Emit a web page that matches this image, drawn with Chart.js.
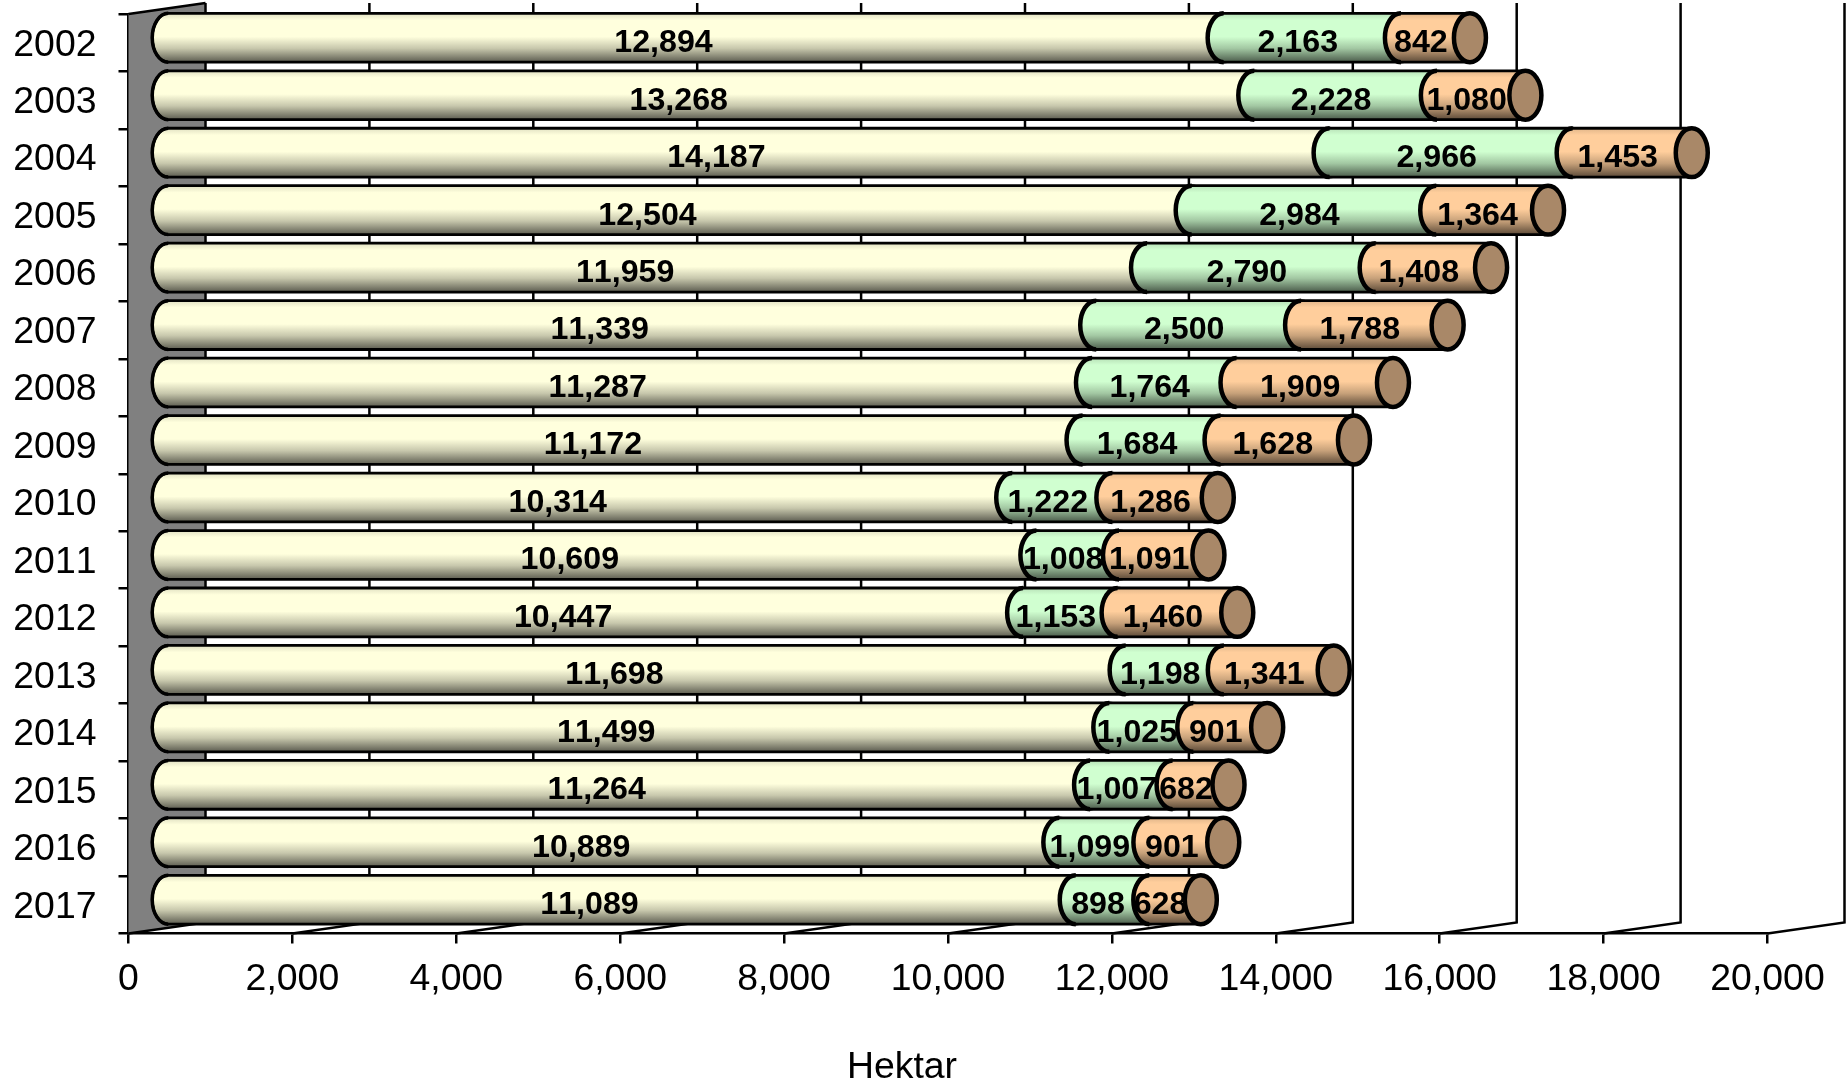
<!DOCTYPE html>
<html>
<head>
<meta charset="utf-8">
<title>Hektar</title>
<script src="https://cdn.jsdelivr.net/npm/chart.js@4/dist/chart.umd.min.js"></script>
<style>
    html, body { margin: 0; padding: 0; background: #fff; }
    canvas { display: block; }
</style>
</head>
<body>
<canvas id="myChart" width="1847" height="1088"></canvas>
<script>
var years = ["2002", "2003", "2004", "2005", "2006", "2007", "2008", "2009",
    "2010", "2011", "2012", "2013", "2014", "2015", "2016", "2017"]
var first_part = [12894, 13268, 14187, 12504, 11959, 11339, 11287, 11172,
    10314, 10609, 10447, 11698, 11499, 11264, 10889, 11089]
var second_part = [2163, 2228, 2966, 2984, 2790, 2500, 1764, 1684,
    1222, 1008, 1153, 1198, 1025, 1007, 1099, 898]
var third_part = [842, 1080, 1453, 1364, 1408, 1788, 1909, 1628,
    1286, 1091, 1460, 1341, 901, 682, 901, 628]
var axis_title = "Hektar"

var FONT = "'Liberation Sans', Arial, sans-serif"
var DEPTH_X = 77
var DEPTH_Y = -11
var CAP_RX = 16

// [r, g, b] of each stack part, then brightness along the bar height
var part_colors = [[255, 255, 221], [208, 255, 208], [255, 206, 156]]
var cap_color = "#A98868"
var shade_stops = [[0, 0.88], [0.14, 1], [0.48, 1], [0.72, 0.78], [1, 0.36]]

function fmt(v) {
    return Number(v).toLocaleString("en-US")
}

function bar_gradient(ctx, top, bottom, rgb) {
    var g = ctx.createLinearGradient(0, top, 0, bottom)
    shade_stops.forEach(function (s) {
        g.addColorStop(s[0], "rgb(" + rgb.map(function (c) { return Math.round(c * s[1]) }).join(",") + ")")
    })
    return g
}

// the scales add room for half a tick label, the original has none
function fit_x(scale) {
    scale.height = 154.5
    scale.paddingLeft = 0
    scale.paddingRight = 0
}

function fit_y(scale) {
    scale.width = 128.5
    scale.paddingTop = 0
    scale.paddingBottom = 0
}

// back wall, floor lines and back grid lines
var wall_plugin = {
    id: "wall",
    beforeDraw: function (chart) {
        chart.ctx.fontKerning = "none"
    },
    beforeDatasetsDraw: function (chart) {
        var ctx = chart.ctx
        var xs = chart.scales.x
        var top = chart.chartArea.top
        var bottom = chart.chartArea.bottom
        var left = xs.getPixelForValue(0)
        ctx.save()
        ctx.fillStyle = "#808080"
        ctx.beginPath()
        ctx.moveTo(left, top)
        ctx.lineTo(left + DEPTH_X, top + DEPTH_Y)
        ctx.lineTo(left + DEPTH_X, bottom + DEPTH_Y)
        ctx.lineTo(left, bottom)
        ctx.closePath()
        ctx.fill()
        ctx.strokeStyle = "#000"
        ctx.lineWidth = 2.5
        ctx.beginPath()
        ctx.moveTo(left, top)
        ctx.lineTo(left + DEPTH_X, top + DEPTH_Y)
        ctx.stroke()
        xs.ticks.forEach(function (t) {
            var x = xs.getPixelForValue(t.value)
            ctx.beginPath()
            ctx.moveTo(x, bottom)
            ctx.lineTo(x + DEPTH_X, bottom + DEPTH_Y)
            ctx.lineTo(x + DEPTH_X, top + DEPTH_Y)
            ctx.stroke()
        })
        ctx.restore()
    }
}

var cylinder_plugin = {
    id: "cylinders",
    afterDatasetsDraw: function (chart) {
        var ctx = chart.ctx
        var last = chart.data.datasets.length - 1
        ctx.save()
        ctx.strokeStyle = "#000"
        chart.data.datasets.forEach(function (ds, i) {
            chart.getDatasetMeta(i).data.forEach(function (bar) {
                var p = bar.getProps(["x", "y", "base", "height"], true)
                var x0 = p.base + DEPTH_X / 2
                var x1 = p.x + DEPTH_X / 2
                var cy = p.y + DEPTH_Y / 2 + 0.5
                var ry = p.height / 2
                ctx.beginPath()
                ctx.ellipse(x0, cy, CAP_RX, ry, 0, Math.PI / 2, Math.PI * 1.5)
                ctx.lineTo(x1, cy - ry)
                ctx.ellipse(x1, cy, CAP_RX, ry, 0, -Math.PI / 2, Math.PI / 2)
                ctx.closePath()
                ctx.fillStyle = bar_gradient(ctx, cy - ry, cy + ry, part_colors[i])
                ctx.fill()
                ctx.lineWidth = 2.8
                ctx.stroke()
                ctx.lineWidth = i === 0 ? 3.5 : 4.5
                ctx.beginPath()
                ctx.ellipse(x0, cy, CAP_RX, ry, 0, Math.PI / 2, Math.PI * 1.5)
                ctx.stroke()
                if (i === last) {
                    ctx.lineWidth = 4.5
                    ctx.beginPath()
                    ctx.ellipse(x1, cy, CAP_RX, ry, 0, 0, Math.PI * 2)
                    ctx.fillStyle = cap_color
                    ctx.fill()
                    ctx.stroke()
                }
            })
        })
        // value labels go over all the bars
        ctx.fillStyle = "#000"
        ctx.font = "bold 32.2px " + FONT
        ctx.textAlign = "center"
        ctx.textBaseline = "middle"
        chart.data.datasets.forEach(function (ds, i) {
            chart.getDatasetMeta(i).data.forEach(function (bar, j) {
                var p = bar.getProps(["x", "y", "base"], true)
                ctx.fillText(fmt(ds.data[j]), (p.x + p.base) / 2 + (i === 0 ? 6 : 24), p.y + 0.5)
            })
        })
        // axis title sits left of the scale centre in the original
        ctx.font = "37.4px " + FONT
        ctx.fillText(axis_title, 902, 1068)
        ctx.restore()
    }
}

function Graphic() {
    var ctx = document.getElementById("myChart")
    new Chart(ctx, {
        type: "bar",
        data: {
            labels: years,
            datasets: [first_part, second_part, third_part].map(function (values) {
                return {
                    data: values,
                    backgroundColor: "transparent",
                    borderWidth: 0,
                    categoryPercentage: 1,
                    barPercentage: 0.85
                }
            })
        },
        options: {
            indexAxis: "y",
            responsive: false,
            animation: false,
            events: [],
            layout: { padding: { left: 0, top: 14, right: 79.5, bottom: 0 } },
            plugins: { legend: { display: false }, tooltip: { enabled: false } },
            scales: {
                x: {
                    stacked: true,
                    min: 0,
                    max: 20000,
                    afterFit: fit_x,
                    border: { color: "#000", width: 2.5 },
                    grid: { drawOnChartArea: false, color: "#000", lineWidth: 2.5, tickLength: 10 },
                    ticks: {
                        stepSize: 2000,
                        autoSkip: false,
                        maxRotation: 0,
                        padding: 14,
                        color: "#000",
                        font: { family: FONT, size: 37.4 },
                        callback: fmt
                    }
                },
                y: {
                    stacked: true,
                    afterFit: fit_y,
                    border: { color: "#000", width: 2.5 },
                    grid: { drawOnChartArea: false, color: "#000", lineWidth: 2.5, tickLength: 10 },
                    ticks: {
                        autoSkip: false,
                        padding: 22,
                        color: "#000",
                        font: { family: FONT, size: 37.4, lineHeight: "5px" },
                        // empty first line pushes the label 2.5px down
                        callback: function (value) {
                            return ["", this.getLabelForValue(value)]
                        }
                    }
                }
            }
        },
        plugins: [wall_plugin, cylinder_plugin]
    })
}

window.addEventListener("load", Graphic)
</script>
</body>
</html>
